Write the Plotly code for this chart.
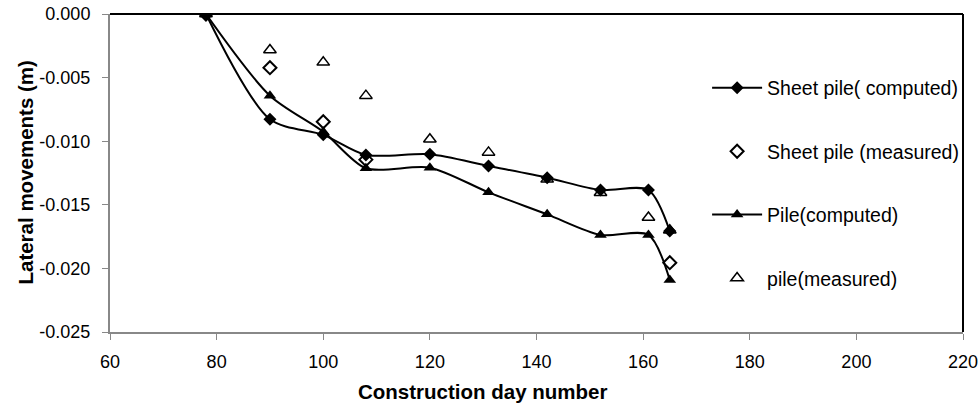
import plotly.graph_objects as go

days = [78, 90, 100, 108, 120, 131, 142, 152, 161, 165]
sheet_computed = [0.0, -0.00828, -0.0095, -0.01108, -0.01103, -0.01195, -0.01287, -0.01384, -0.01384, -0.01706]
pile_computed = [0.0, -0.00642, -0.00925, -0.01213, -0.01208, -0.01402, -0.01575, -0.01737, -0.01737, -0.02091]

sheet_meas_days = [78, 90, 100, 108, 165]
sheet_measured = [0.0, -0.00422, -0.00847, -0.01145, -0.01955]

pile_meas_days = [78, 90, 100, 108, 120, 131, 142, 152, 161, 165]
pile_measured = [0.0, -0.00283, -0.0038, -0.00642, -0.00985, -0.01088, -0.0130, -0.01405, -0.0160, -0.0170]

x_ticks = [60, 80, 100, 120, 140, 160, 180, 200, 220]
y_ticks = [0.0, -0.005, -0.010, -0.015, -0.020, -0.025]

FONT = "Liberation Sans, Arial, sans-serif"

fig = go.Figure()
fig.add_trace(go.Scatter(
    x=days, y=sheet_computed, name="Sheet pile( computed)", mode="lines+markers",
    line=dict(color="black", width=2, shape="spline", smoothing=0.8),
    marker=dict(symbol="diamond", size=10, color="black"), legendgroup="a"))
fig.add_trace(go.Scatter(
    x=sheet_meas_days, y=sheet_measured, name="Sheet pile (measured)", mode="markers",
    marker=dict(symbol="diamond-open", size=10, color="black", line=dict(width=2, color="black")),
    legendgroup="b"))
fig.add_trace(go.Scatter(
    x=days, y=pile_computed, name="Pile(computed)", mode="lines+markers",
    line=dict(color="black", width=2, shape="spline", smoothing=0.8),
    marker=dict(symbol="triangle-up", size=11, color="black"), legendgroup="c"))
fig.add_trace(go.Scatter(
    x=pile_meas_days, y=pile_measured, name="pile(measured)", mode="markers",
    marker=dict(symbol="triangle-up-open", size=11, color="black", line=dict(width=1.5, color="black")),
    legendgroup="d"))

fig.update_layout(
    width=980, height=403,
    margin=dict(l=110, r=17, t=14, b=71, autoexpand=False),
    paper_bgcolor="white", plot_bgcolor="white",
    font=dict(family=FONT, size=18, color="black"),
    showlegend=True,
    legend=dict(x=0.70, y=0.828, xanchor="left", yanchor="top",
                font=dict(size=19.5, family=FONT), tracegroupgap=35,
                itemwidth=50, bgcolor="rgba(0,0,0,0)"),
    xaxis=dict(range=[60, 220], tickvals=x_ticks, ticktext=[str(v) for v in x_ticks],
               showgrid=False, zeroline=False, showline=True, linecolor="#888888", linewidth=2,
               ticks="outside", ticklen=6, tickcolor="#888888", ticklabelstandoff=6,
               tickfont=dict(size=18), automargin=False),
    yaxis=dict(range=[-0.025, 0.0], tickvals=y_ticks, ticktext=["%.3f" % v for v in y_ticks],
               showgrid=False, zeroline=False, showline=True, linecolor="#888888", linewidth=2,
               ticks="outside", ticklen=6, tickcolor="#888888", ticklabelstandoff=8,
               tickfont=dict(size=18), automargin=False),
    annotations=[
        dict(text="<b>Construction day number</b>", xref="paper", yref="paper",
             x=0.4367, y=-0.1877, xanchor="center", yanchor="middle", showarrow=False,
             font=dict(size=20.5, family=FONT)),
        dict(text="<b>Lateral movements (m)</b>", xref="paper", yref="paper",
             x=-0.1002, y=0.5, xanchor="center", yanchor="middle", showarrow=False,
             textangle=-90, font=dict(size=20.5, family=FONT)),
    ],
    shapes=[
        dict(type="line", xref="paper", yref="paper", x0=0, x1=1, y0=1, y1=1,
             line=dict(color="black", width=2)),
        dict(type="line", xref="paper", yref="paper", x0=1, x1=1, y0=0, y1=1,
             line=dict(color="black", width=2)),
    ],
)

fig.write_html(
    "out.html",
    config={"displayModeBar": False},
    post_script=(
        "document.body.style.margin='0';"
        "document.body.style.overflow='hidden';"
        "document.documentElement.style.overflow='hidden';"
    ),
)
